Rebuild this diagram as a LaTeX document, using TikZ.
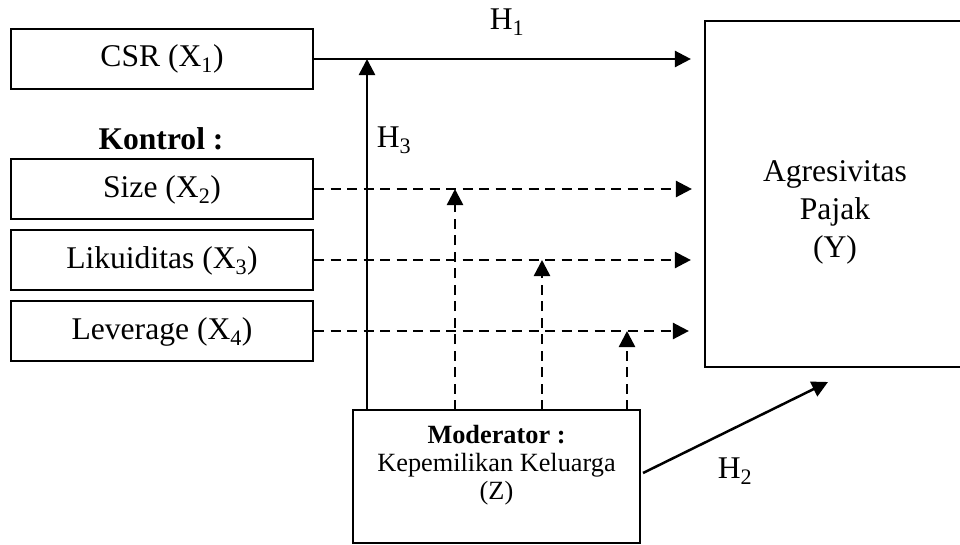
\documentclass[tikz,border=0pt]{standalone}
\usepackage{fontspec}
\setmainfont{Liberation Serif}
\usetikzlibrary{arrows.meta}
\begin{document}
\begin{tikzpicture}[x=1pt,y=-1pt,
  box/.style={draw,line width=2.2pt,inner sep=0pt},
  lbl/.style={inner sep=0pt,font=\fontsize{31.6}{38}\selectfont,align=center},
  modtxt/.style={inner sep=0pt,font=\fontsize{26.3}{28}\selectfont,align=center},
  conn/.style={line width=2.5pt,-{Triangle[length=16pt,width=16pt]}},
  dconn/.style={conn,dash pattern=on 10pt off 6.5pt}]
\useasboundingbox (0,0) rectangle (960,544);
% left boxes
\node[box,minimum width=302pt,minimum height=60pt] (csr) at (162,59) {};
\node[lbl] (csrt) at (162,59) {CSR (X\textsubscript{1})};
\node[lbl,font=\fontsize{31.6}{38}\selectfont\bfseries] (kontrol) at (161,139) {Kontrol :};
\node[box,minimum width=302pt,minimum height=60pt] (size) at (162,189) {};
\node[lbl] (sizet) at (162,190) {Size (X\textsubscript{2})};
\node[box,minimum width=302pt,minimum height=60pt] (lik) at (162,260) {};
\node[lbl] (likt) at (162,261) {Likuiditas (X\textsubscript{3})};
\node[box,minimum width=302pt,minimum height=60pt] (lev) at (162,331) {};
\node[lbl] (levt) at (162,332) {Leverage (X\textsubscript{4})};
% right box
\node[box,minimum width=262pt,minimum height=346pt] (agr) at (836,194) {};
\node[lbl] (agrt) at (835,212) {Agresivitas\\Pajak\\(Y)};
% moderator
\node[box,minimum width=287pt,minimum height=133pt] (mod) at (496.5,476.5) {};
\node[modtxt] (modt) at (496.5,465) {\textbf{Moderator :}\\Kepemilikan Keluarga\\(Z)};
% connectors
\draw[conn,shorten >=13pt] (csr.east) -- (csr.east -| agr.west);
\draw[dconn,shorten >=12pt] (size.east) -- (size.east -| agr.west);
\draw[dconn,shorten >=13pt] (lik.east) -- (lik.east -| agr.west);
\draw[dconn,shorten >=15pt] (lev.east) -- (lev.east -| agr.west);
\coordinate (h3b) at (367,410);
\draw[conn] (h3b) -- (h3b |- csr.east);
\coordinate (m1) at (455,410);
\coordinate (m2) at (542,410);
\coordinate (m3) at (627,410);
\draw[dconn] (m1) -- (m1 |- size.east);
\draw[dconn] (m2) -- (m2 |- lik.east);
\draw[dconn] (m3) -- (m3 |- lev.east);
\coordinate (h2s) at (643,473);
\coordinate (h2e) at (828,382);
\draw[conn] (h2s) -- (h2e);
% labels
\node[lbl] (h1) at (507,22) {H\textsubscript{1}};
\node[lbl] (h3) at (394,140) {H\textsubscript{3}};
\node[lbl] (h2) at (735,471) {H\textsubscript{2}};
\end{tikzpicture}
\end{document}
